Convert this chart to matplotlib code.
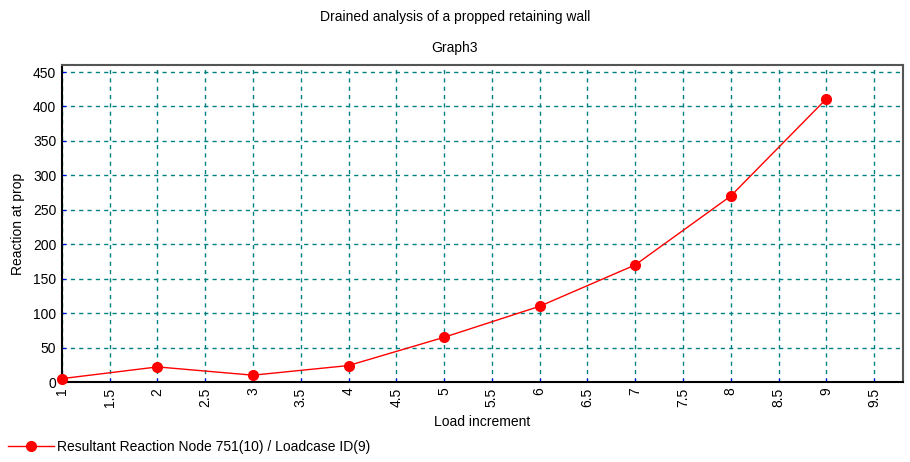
import numpy as np
import matplotlib
matplotlib.use("Agg")
import matplotlib.pyplot as plt
from matplotlib.lines import Line2D

plt.rcParams["font.family"] = ["Liberation Sans", "DejaVu Sans"]

load_increment = [1, 2, 3, 4, 5, 6, 7, 8, 9]
reaction = [5, 22, 10, 24, 65, 110, 170, 270, 411]
x_ticks = [1, 1.5, 2, 2.5, 3, 3.5, 4, 4.5, 5, 5.5, 6, 6.5, 7, 7.5, 8, 8.5, 9, 9.5]
y_ticks = [0, 50, 100, 150, 200, 250, 300, 350, 400, 450]
series_label = "Resultant Reaction Node 751(10) / Loadcase ID(9)"

fig = plt.figure(figsize=(9.1, 4.62), dpi=100)
ax = fig.add_axes([0.068, 0.173, 0.924, 0.686])

ax.plot(load_increment, reaction, color="red", linewidth=1, marker="o",
        markersize=7, clip_on=False, zorder=3)

ax.set_xlim(1, 9.8)
ax.set_ylim(0, 460)
ax.set_xticks(x_ticks)
ax.set_xticklabels([f"{t:g}" for t in x_ticks], rotation=90, fontsize=10,
                   va="top")
ax.set_yticks(y_ticks)
ax.set_yticklabels([str(t) for t in y_ticks], fontsize=10)
ax.tick_params(direction="in", length=3, color="blue", pad=4)

ax.grid(True, color="#008080", linestyle=(0, (3, 3)), linewidth=1)
for s in ["left", "bottom"]:
    ax.spines[s].set_color("black")
    ax.spines[s].set_linewidth(1.5)
for s in ["top", "right"]:
    ax.spines[s].set_color("#555555")
    ax.spines[s].set_linewidth(1.5)

ax.set_xlabel("Load increment", fontsize=10, labelpad=6)
ax.set_ylabel("Reaction at prop", fontsize=10, labelpad=6)

fig.text(0.5, 0.963, "Drained analysis of a propped retaining wall",
         ha="center", va="center", fontsize=10)
fig.text(0.5, 0.896, "Graph3", ha="center", va="center", fontsize=10)

handle = Line2D([0], [0], color="red", linewidth=1, marker="o", markersize=7)
fig.legend([handle], [series_label], loc="lower left",
           bbox_to_anchor=(-0.005, -0.01), frameon=False, fontsize=10,
           handlelength=3.3, handletextpad=0.2)

fig.savefig("out.png", dpi=100)
